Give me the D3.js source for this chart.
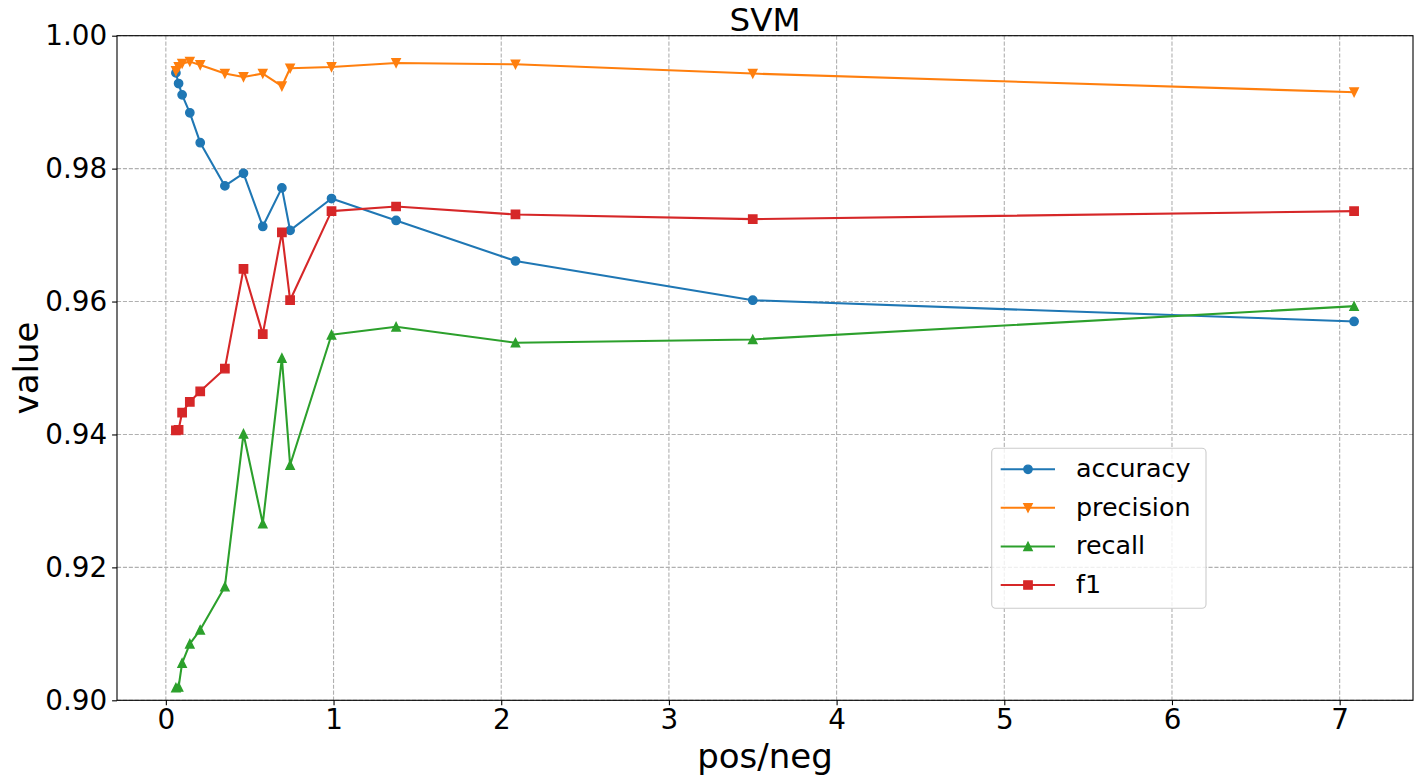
<!DOCTYPE html>
<html>
<head>
<meta charset="utf-8">
<script src="https://cdn.jsdelivr.net/npm/d3@7"></script>
<style>
  html, body { margin: 0; padding: 0; background: #fff; }
  svg { display: block; font-family: "DejaVu Sans", sans-serif; }
</style>
</head>
<body>
<svg id="chart" width="1415" height="781"></svg>
<script>
// ---- data ----
const posNeg    = [0.060, 0.076, 0.097, 0.143, 0.205, 0.352, 0.463, 0.578, 0.692, 0.741, 0.988, 1.373, 2.085, 3.500, 7.086];
const accuracy  = [0.9944, 0.9928, 0.9911, 0.9884, 0.9839, 0.9774, 0.9793, 0.9713, 0.9771, 0.9707, 0.9755, 0.9722, 0.9661, 0.9602, 0.9570];
const precision = [0.9947, 0.9953, 0.9958, 0.9961, 0.9956, 0.9943, 0.9938, 0.9943, 0.9924, 0.9951, 0.9953, 0.9959, 0.9957, 0.9943, 0.9915];
const recall    = [0.9019, 0.9020, 0.9056, 0.9085, 0.9106, 0.9171, 0.9401, 0.9266, 0.9515, 0.9354, 0.9550, 0.9562, 0.9538, 0.9543, 0.9593];
const f1        = [0.9406, 0.9407, 0.9433, 0.9449, 0.9465, 0.9499, 0.9649, 0.9551, 0.9704, 0.9602, 0.9736, 0.9743, 0.9731, 0.9724, 0.9736];
const seriesNames  = ["accuracy", "precision", "recall", "f1"];
const seriesColors = ["#1f77b4", "#ff7f0e", "#2ca02c", "#d62728"];
const seriesMarkers = ["circle", "tri-down", "tri-up", "square"];
const xTicks = [0, 1, 2, 3, 4, 5, 6, 7];
const yTicks = [0.90, 0.92, 0.94, 0.96, 0.98, 1.00];
const titleText = "SVM", xLabel = "pos/neg", yLabel = "value";

const seriesValues = [accuracy, precision, recall, f1];

// ---- layout ----
const L = 117, R = 1413, T = 35.7, B = 700.3;
const svg = d3.select("#chart");

const xMin = d3.min(posNeg), xMax = d3.max(posNeg), xm = (xMax - xMin) * 0.05;
const x = d3.scaleLinear().domain([xMin - xm, xMax + xm]).range([L, R]);
const y = d3.scaleLinear().domain([0.90, 1.00]).range([B, T]);

// grid
const grid = svg.append("g");
grid.selectAll("line.gx").data(xTicks).join("line")
  .attr("x1", d => x(d)).attr("x2", d => x(d)).attr("y1", T).attr("y2", B)
  .attr("stroke", "#b0b0b0").attr("stroke-width", 1.1).attr("stroke-dasharray", "4.1,1.8");
grid.selectAll("line.gy").data(yTicks).join("line")
  .attr("x1", L).attr("x2", R).attr("y1", d => y(d)).attr("y2", d => y(d))
  .attr("stroke", "#b0b0b0").attr("stroke-width", 1.1).attr("stroke-dasharray", "4.1,1.8");

// axes
const xAxis = svg.append("g").attr("transform", `translate(0,${B})`)
  .call(d3.axisBottom(x).tickValues(xTicks).tickFormat(d3.format("d")).tickSize(4.9).tickPadding(4.5));
const yAxis = svg.append("g").attr("transform", `translate(${L},0)`)
  .call(d3.axisLeft(y).tickValues(yTicks).tickFormat(d3.format(".2f")).tickSize(4.9).tickPadding(5));
[xAxis, yAxis].forEach(g => {
  g.select(".domain").remove();
  g.selectAll(".tick line").attr("stroke", "#000").attr("stroke-width", 1.1);
  g.selectAll(".tick text").attr("fill", "#000").attr("font-size", "27.8px")
    .attr("font-family", "DejaVu Sans");
});
// spines
svg.append("rect").attr("x", L).attr("y", T).attr("width", R - L).attr("height", B - T)
  .attr("fill", "none").attr("stroke", "#000").attr("stroke-width", 1.1);

// markers
const ms = 4.17;
function markerPath(type) {
  switch (type) {
    case "tri-down": return `M0,${ms}L${-ms},${-ms}L${ms},${-ms}Z`;
    case "tri-up":   return `M0,${-ms}L${-ms},${ms}L${ms},${ms}Z`;
    case "square":   return `M${-ms},${-ms}H${ms}V${ms}H${-ms}Z`;
    default: return d3.symbol(d3.symbolCircle, Math.PI * ms * ms)();
  }
}

const line = d3.line().x(d => x(d[0])).y(d => y(d[1]));
seriesValues.forEach((vals, i) => {
  const pts = posNeg.map((xv, j) => [xv, vals[j]]);
  const g = svg.append("g");
  g.append("path").datum(pts).attr("d", line)
    .attr("fill", "none").attr("stroke", seriesColors[i]).attr("stroke-width", 2.08)
    .attr("stroke-linejoin", "round").attr("stroke-linecap", "square");
  g.selectAll("path.m").data(pts).join("path").attr("class", "m")
    .attr("d", markerPath(seriesMarkers[i]))
    .attr("transform", d => `translate(${x(d[0])},${y(d[1])})`)
    .attr("fill", seriesColors[i]).attr("stroke", seriesColors[i]).attr("stroke-width", 1.39)
    .attr("stroke-linejoin", "miter");
});

// title & labels
svg.append("text").attr("x", (L + R) / 2).attr("y", 30.5).attr("text-anchor", "middle")
  .attr("font-size", "32.5px").attr("fill", "#000").text(titleText);
svg.append("text").attr("x", (L + R) / 2).attr("y", 768).attr("text-anchor", "middle")
  .attr("font-size", "34px").attr("fill", "#000").text(xLabel);
svg.append("text").attr("transform", `translate(38,${(T + B) / 2}) rotate(-90)`)
  .attr("text-anchor", "middle").attr("font-size", "34px").attr("fill", "#000").text(yLabel);

// legend
const lg = svg.append("g");
lg.append("rect").attr("x", 991.7).attr("y", 448.3).attr("width", 1206 - 991.7).attr("height", 608.3 - 448.3)
  .attr("rx", 4).attr("fill", "#fff").attr("fill-opacity", 0.8)
  .attr("stroke", "#cccccc").attr("stroke-width", 1.1);
const rowY = [469.3, 507.8, 546.5, 585];
seriesNames.forEach((name, i) => {
  const ry = rowY[i];
  lg.append("line").attr("x1", 1000.7).attr("x2", 1055).attr("y1", ry).attr("y2", ry)
    .attr("stroke", seriesColors[i]).attr("stroke-width", 2.08);
  lg.append("path").attr("d", markerPath(seriesMarkers[i]))
    .attr("transform", `translate(1028,${ry})`)
    .attr("fill", seriesColors[i]).attr("stroke", seriesColors[i]).attr("stroke-width", 1.39);
  lg.append("text").attr("x", 1076).attr("y", ry + 7.8)
    .attr("font-size", "25.4px").attr("fill", "#000").text(name);
});
</script>
</body>
</html>
